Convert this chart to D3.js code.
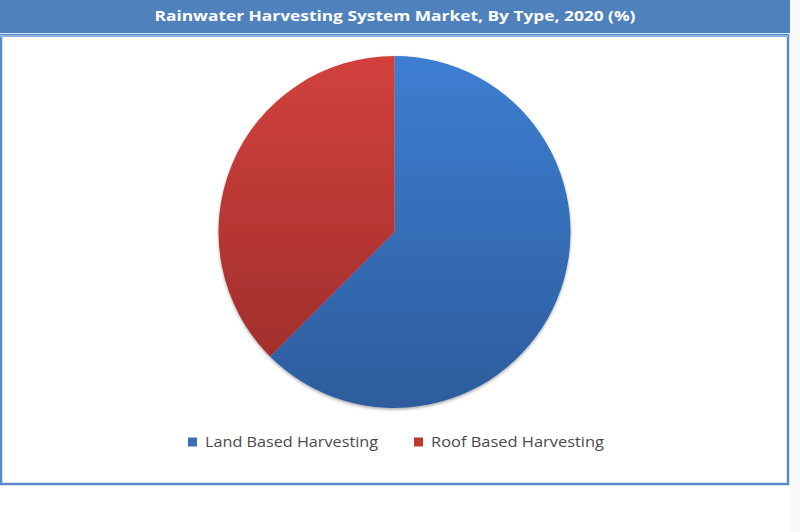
<!DOCTYPE html>
<html>
<head>
<meta charset="utf-8">
<script src="https://cdn.jsdelivr.net/npm/d3@7"></script>
<style>
  body { margin: 0; background: #ffffff; }
  svg { display: block; }
</style>
</head>
<body>
<svg width="800" height="532"></svg>
<script>
const title = "Rainwater Harvesting System Market, By Type, 2020 (%)"
const categories = ["Land Based Harvesting", "Roof Based Harvesting"]
const shares = [62.5, 37.5]
const topColors = ["#3d7ed2", "#d2413d"]
const bottomColors = ["#2d5c9c", "#992c29"]

const svg = d3.select("svg")
const defs = svg.append("defs")

const cx = 394.5, cy = 232, radius = 176

// frame + title bar
svg.append("rect").attr("x", 790).attr("y", 0).attr("width", 10).attr("height", 532).attr("fill", "#f9fafc")
svg.append("rect").attr("x", 1).attr("y", 35).attr("width", 787).attr("height", 449)
    .attr("fill", "#ffffff").attr("stroke", "#5a8acb").attr("stroke-width", 2.5)
svg.append("rect").attr("x", 0).attr("y", 0).attr("width", 790).attr("height", 33).attr("fill", "#4f81bd")
svg.append("rect").attr("x", 0).attr("y", 35).attr("width", 788).attr("height", 2).attr("fill", "#8fb2df")
svg.append("text")
    .attr("x", 395).attr("y", 17)
    .attr("text-anchor", "middle").attr("dominant-baseline", "middle")
    .attr("font-family", "'Open Sans', sans-serif").attr("font-weight", "bold").attr("font-size", 15)
    .attr("textLength", 481).attr("lengthAdjust", "spacingAndGlyphs")
    .attr("fill", "#ffffff")
    .text(title)

// gradients, one per slice (coords are local to the translated pie group)
categories.forEach(function(c, i) {
    const g = defs.append("linearGradient").attr("id", "grad" + i)
        .attr("gradientUnits", "userSpaceOnUse")
        .attr("x1", 0).attr("y1", -radius).attr("x2", 0).attr("y2", radius)
    g.append("stop").attr("offset", "0%").attr("stop-color", topColors[i])
    g.append("stop").attr("offset", "100%").attr("stop-color", bottomColors[i])
})

const shadow = defs.append("filter").attr("id", "shadow")
    .attr("x", "-10%").attr("y", "-10%").attr("width", "120%").attr("height", "120%")
shadow.append("feDropShadow").attr("dx", 0).attr("dy", 1.5).attr("stdDeviation", 1.5)
    .attr("flood-color", "#000000").attr("flood-opacity", 0.35)

const pie = d3.pie().sort(null).value(function(d) { return d })
const arc = d3.arc().innerRadius(0).outerRadius(radius)

const pieG = svg.append("g").attr("transform", "translate(" + cx + "," + cy + ")")
    .attr("filter", "url(#shadow)")
pieG.selectAll("path")
    .data(pie(shares))
    .enter().append("path")
    .attr("d", arc)
    .attr("fill", function(d, i) { return "url(#grad" + i + ")" })

// legend
const legendX = [188, 414]
const legend = svg.selectAll("g.legend")
    .data(categories)
    .enter().append("g").attr("class", "legend")
    .attr("transform", function(d, i) { return "translate(" + legendX[i] + ",442)" })
legend.append("rect")
    .attr("x", 0).attr("y", -4.5).attr("width", 9).attr("height", 9)
    .attr("fill", function(d, i) { return i == 0 ? "#3a6fb5" : "#c0392f" })
legend.append("text")
    .attr("x", 17).attr("y", 1)
    .attr("dominant-baseline", "middle")
    .attr("font-family", "'Open Sans', sans-serif").attr("font-size", 14)
    .attr("textLength", 173).attr("lengthAdjust", "spacingAndGlyphs")
    .attr("fill", "#4a4a4a")
    .text(function(d) { return d })
</script>
</body>
</html>
